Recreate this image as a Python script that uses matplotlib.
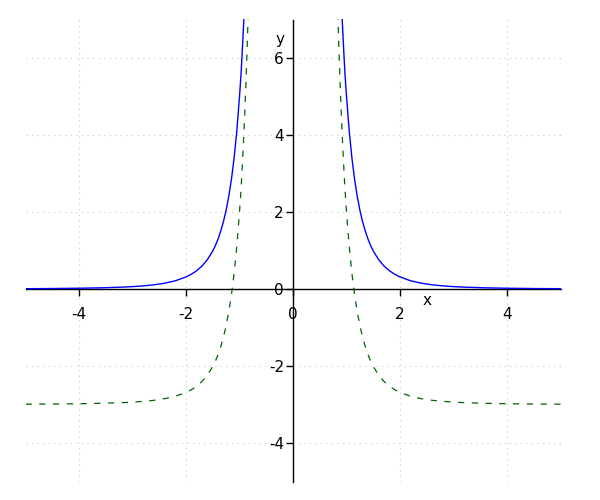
import matplotlib
matplotlib.use("Agg")
import matplotlib.pyplot as plt
import numpy as np

plt.rcParams['axes.unicode_minus'] = False

# |x| sample positions (each branch is drawn at -x and +x)
x_abs = [5.0, 4.5, 4.0, 3.6, 3.2, 3.0, 2.8, 2.6, 2.4, 2.2, 2.0, 1.9, 1.8,
         1.7, 1.6, 1.5, 1.45, 1.4, 1.35, 1.3, 1.25, 1.2, 1.15, 1.1, 1.05,
         1.0, 0.97, 0.95, 0.92, 0.9, 0.88, 0.86, 0.84, 0.82]
# blue solid curve values
blue_y = [0.008, 0.012, 0.020, 0.030, 0.048, 0.062, 0.081, 0.109, 0.151,
          0.213, 0.313, 0.384, 0.476, 0.599, 0.763, 0.988, 1.130, 1.302,
          1.508, 1.751, 2.048, 2.411, 2.859, 3.415, 4.113, 5.0, 5.612,
          6.139, 6.979, 7.621, 8.337, 9.141, 10.04, 11.06]
# green dashed curve values
green_y = [-2.992, -2.988, -2.980, -2.970, -2.952, -2.938, -2.919, -2.891,
           -2.849, -2.787, -2.687, -2.616, -2.524, -2.401, -2.237, -2.012,
           -1.870, -1.698, -1.492, -1.249, -0.952, -0.589, -0.141, 0.415,
           1.113, 2.0, 2.612, 3.139, 3.979, 4.621, 5.337, 6.141, 7.04, 8.06]

xticks = [-4, -2, 0, 2, 4]
yticks = [-4, -2, 0, 2, 4, 6]

fig = plt.figure(figsize=(6, 5), dpi=100)
ax = fig.add_axes([0.0425, 0.037, 0.8917, 0.924])

xa = np.array(x_abs)
for sign in (-1, 1):
    ax.plot(sign * xa, blue_y, color='#0000ff', lw=1.0, zorder=3)
    ax.plot(sign * xa, green_y, color='#006400', lw=0.9,
            linestyle=(0, (5, 6)), zorder=3)

ax.set_xlim(-5, 5)
ax.set_ylim(-5, 7)
ax.set_xticks(xticks)
ax.set_yticks(yticks)
ax.tick_params(labelsize=11, length=5, width=1)
ax.tick_params(axis='x', pad=8)
ax.tick_params(axis='y', pad=1.5)

ax.spines['left'].set_position(('data', 0))
ax.spines['bottom'].set_position(('data', 0))
ax.spines['top'].set_visible(False)
ax.spines['right'].set_visible(False)
for s in ('left', 'bottom'):
    ax.spines[s].set_linewidth(1.0)
    ax.spines[s].set_zorder(2)

ax.grid(True, color='#c8c8c8', linestyle=(0, (1, 4)), lw=0.8)
ax.set_axisbelow(True)

ax.text(2.5, -0.3, 'x', fontsize=11, ha='center', va='center')
ax.text(-0.25, 6.47, 'y', fontsize=11, ha='center', va='center')

fig.savefig('out.png')
